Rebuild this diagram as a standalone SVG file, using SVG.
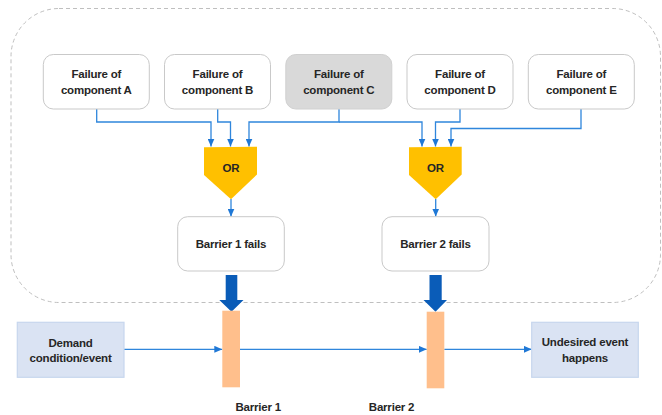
<svg xmlns="http://www.w3.org/2000/svg" width="662" height="415" viewBox="0 0 662 415">
<defs>
<marker id="ah" markerUnits="userSpaceOnUse" markerWidth="8" markerHeight="7" refX="8" refY="3.5" orient="auto">
<path d="M0,0 L8,3.5 L0,7 z" fill="#1f78d6"/>
</marker>
<style>
.bg{fill:#ffffff}
.frame{fill:none;stroke:#bfbfbf;stroke-width:1;stroke-dasharray:4 3}
.box{fill:#ffffff;stroke:#c9c9c9;stroke-width:1}
.boxg{fill:#d9d9d9;stroke:#d0d0d0;stroke-width:1}
.bl{fill:#dae3f3;stroke:#c7d6ee;stroke-width:1.2}
.gate{fill:#ffc000}
.bar{fill:#ffbf8c}
.big{fill:#0a5cb8}
.con{fill:none;stroke:#2f86dc;stroke-width:1.3;marker-end:url(#ah)}
.t{font-family:"Liberation Sans",Arial,sans-serif;font-size:11.5px;font-weight:bold;fill:#262626;text-anchor:middle;letter-spacing:-0.2px}
.ts{font-family:"Liberation Sans",Arial,sans-serif;font-size:11.5px;font-weight:bold;fill:#262626;letter-spacing:-0.2px}
</style>
</defs>
<rect class="bg" x="0" y="0" width="662" height="415"/>
<rect class="frame" x="11" y="8.5" width="649.5" height="294" rx="48" ry="48"/>

<g id="connectors">
<polyline class="con" points="96.7,109 96.7,122 211,122 211,146.5"/>
<polyline class="con" points="217.7,109 217.7,122 230.5,122 230.5,146.5"/>
<polyline class="con" points="339,109 339,122 249,122 249,146.5"/>
<polyline class="con" points="339,122 422,122 422,146.5"/>
<polyline class="con" points="460,109 460,122 435.5,122 435.5,146.5"/>
<polyline class="con" points="581,109 581,128.5 451,128.5 451,146.5"/>
<line class="con" x1="231" y1="199" x2="231" y2="216.5"/>
<line class="con" x1="435.7" y1="199" x2="435.7" y2="216.5"/>
<line class="con" x1="124" y1="349.3" x2="222.3" y2="349.3"/>
<line class="con" x1="240" y1="349.3" x2="426.7" y2="349.3"/>
<line class="con" x1="444.3" y1="349.3" x2="531.7" y2="349.3"/>
<polygon class="big" points="225.7,275 237.3,275 237.3,300 243.5,300 231.5,311.7 219.3,300 225.7,300"/>
<polygon class="big" points="429.5,275 441.7,275 441.7,300 447,300 435.5,311.7 423.5,300 429.5,300"/>
</g>

<g id="compA"><rect class="box" x="43.3" y="54.5" width="106" height="54.5" rx="10"/>
<text class="t" x="96.3" y="78">Failure of</text><text class="t" x="96.3" y="94">component A</text></g>
<g id="compB"><rect class="box" x="164.5" y="54.5" width="106" height="54.5" rx="10"/>
<text class="t" x="217.5" y="78">Failure of</text><text class="t" x="217.5" y="94">component B</text></g>
<g id="compC"><rect class="boxg" x="285.8" y="54.5" width="106" height="54.5" rx="10"/>
<text class="t" x="338.8" y="78">Failure of</text><text class="t" x="338.8" y="94">component C</text></g>
<g id="compD"><rect class="box" x="407" y="54.5" width="106" height="54.5" rx="10"/>
<text class="t" x="460" y="78">Failure of</text><text class="t" x="460" y="94">component D</text></g>
<g id="compE"><rect class="box" x="528.3" y="54.5" width="106" height="54.5" rx="10"/>
<text class="t" x="581.3" y="78">Failure of</text><text class="t" x="581.3" y="94">component E</text></g>

<g id="or1"><polygon class="gate" points="204,147.3 257,146.7 257,174.5 231,199.3 204,175"/>
<text class="t" x="231" y="172">OR</text></g>
<g id="or2"><polygon class="gate" points="409,147.3 461.7,146.7 461.7,174.5 435.7,199.3 409,175"/>
<text class="t" x="435.5" y="172">OR</text></g>

<g id="fail1"><rect class="box" x="177.7" y="216.7" width="106.6" height="54.3" rx="10"/>
<text class="t" x="231" y="248">Barrier 1 fails</text></g>
<g id="fail2"><rect class="box" x="382" y="216.7" width="107" height="54.3" rx="10"/>
<text class="t" x="435.5" y="248">Barrier 2 fails</text></g>

<g id="demand"><rect class="bl" x="17.3" y="322.3" width="106.7" height="55"/>
<text class="t" x="70.6" y="347">Demand</text><text class="t" x="70.6" y="362">condition/event</text></g>
<g id="undesired"><rect class="bl" x="531.7" y="322.3" width="106.6" height="55"/>
<text class="t" x="585" y="346">Undesired event</text><text class="t" x="585" y="362">happens</text></g>

<g id="barrier1"><rect class="bar" x="222.3" y="310.7" width="17.7" height="76.6"/>
<text class="ts" x="235.5" y="411">Barrier 1</text></g>
<g id="barrier2"><rect class="bar" x="426.7" y="311.7" width="17.6" height="76.6"/>
<text class="ts" x="414.3" y="411" text-anchor="end">Barrier 2</text></g>
</svg>
